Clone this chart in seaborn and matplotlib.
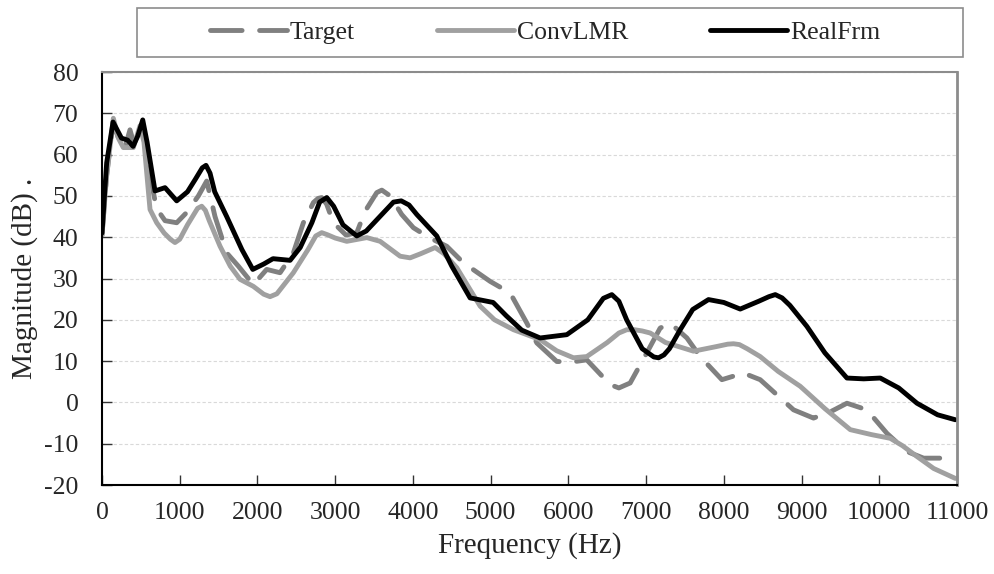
import matplotlib
matplotlib.use("Agg")
import matplotlib.pyplot as plt
from matplotlib.patches import Rectangle
import seaborn as sns

# ---- data ----
target_f = [0, 60, 146, 250, 300, 360, 420, 520, 620, 700, 811, 961, 1090, 1240, 1347, 1454,
            1604, 1754, 1947, 2119, 2291, 2462, 2591, 2720, 2780, 2827, 2890, 2977, 3140, 3278,
            3385, 3535, 3600, 3707, 3856, 4006, 4200, 4436, 4650, 4994, 5251, 5466, 5594, 5852,
            6050, 6237, 6538, 6650, 6795, 7009, 7181, 7310, 7525, 7696, 7975, 8253, 8468, 8897,
            9154, 9400, 9584, 9841, 10099, 10356, 10571, 10807]
target_db = [40.5, 55, 68, 61.5, 62, 66, 62, 67, 55, 47, 44, 43.5, 46, 50, 53.6, 45,
             36.2, 33, 28.5, 32.2, 31.4, 36.2, 43.5, 48.4, 49.4, 49.6, 48, 43.5, 40.5, 41.1,
             46.3, 50.8, 51.4, 50, 45.5, 42.3, 40, 37.8, 33.8, 29.3, 26.5, 19.2, 14.4, 9.9,
             9.8, 10.3, 4.3, 3.5, 4.7, 12, 18, 19.2, 15.6, 11.1, 5.5, 7.1, 5.5, -1.8,
             -3.8, -2, -0.2, -1.8, -7.5, -11.9, -13.5, -13.5]

conv_f = [0, 60, 146, 210, 274, 403, 489, 540, 618, 704, 800, 880, 939, 1000, 1100, 1230,
          1283, 1330, 1380, 1519, 1650, 1776, 1947, 2080, 2162, 2250, 2300, 2462, 2650, 2750,
          2827, 2900, 3000, 3149, 3407, 3578, 3835, 3964, 4100, 4286, 4400, 4565, 4865, 5050,
          5294, 5637, 5850, 6066, 6237, 6500, 6650, 6752, 6850, 6950, 7053, 7250, 7610, 7900,
          8050, 8125, 8200, 8300, 8468, 8700, 8983, 9300, 9627, 9900, 10142, 10300, 10485,
          10700, 10978]
conv_db = [40.5, 55, 68.8, 64, 61.7, 61.7, 67, 63, 46.7, 43.5, 41, 39.5, 38.7, 39.5, 43, 47,
           47.5, 46.5, 44, 37.8, 33, 29.8, 28.1, 26.2, 25.6, 26.3, 27.5, 31.4, 37, 40.3,
           41.1, 40.6, 39.8, 39, 39.9, 39, 35.4, 35, 36, 37.5, 36, 32.6, 23.3, 20,
           17.6, 15.2, 12.5, 10.8, 11.1, 14.5, 16.8, 17.6, 17.6, 17.3, 16.8, 14.5, 12.4, 13.5,
           14.1, 14.2, 14, 13, 11.1, 7.5, 3.9, -1.5, -6.6, -7.8, -8.7, -10.5, -13.1,
           -16, -18.4]

real_f = [0, 60, 142, 250, 330, 400, 460, 524, 580, 682, 811, 961, 1100, 1200, 1290, 1338,
          1390, 1450, 1604, 1800, 1940, 2080, 2200, 2420, 2550, 2700, 2800, 2892, 2980, 3100,
          3278, 3400, 3600, 3750, 3850, 3950, 4050, 4307, 4500, 4736, 5032, 5200, 5400, 5637,
          5980, 6250, 6450, 6559, 6650, 6750, 6950, 7100, 7160, 7230, 7300, 7439, 7600, 7803,
          8000, 8211, 8450, 8580, 8662, 8750, 8850, 9069, 9300, 9584, 9800, 10013, 10250,
          10485, 10750, 10978]
real_db = [41, 58, 67.9, 64, 63.5, 62, 64.5, 68.4, 63, 51.2, 52, 48.8, 51, 54, 56.8, 57.4,
           55.5, 51, 45, 37, 32.2, 33.5, 34.8, 34.4, 37.5, 43.5, 48.5, 49.6, 47.5, 43,
           40.3, 41.5, 45.5, 48.5, 48.8, 47.8, 45.5, 40.3, 33, 25.3, 24.2, 21, 17.5, 15.6,
           16.4, 20, 25.2, 26.1, 24.5, 20, 13, 11, 10.8, 11.5, 13, 17.6, 22.5, 24.9,
           24.2, 22.6, 24.5, 25.6, 26.1, 25.3, 23.5, 18.4, 12, 5.9, 5.7, 5.9, 3.5,
           -0.2, -3, -4.2]

series_names = ["Target", "ConvLMR", "RealFrm"]
x_ticks = list(range(0, 11001, 1000))
y_ticks = list(range(-20, 81, 10))

# ---- style ----
sns.set_theme(style="white")
plt.rcParams["font.family"] = ["Liberation Serif", "DejaVu Serif"]

fig = plt.figure(figsize=(9.95, 5.74), dpi=100)
ax = fig.add_axes([102 / 995, 1 - 485 / 574, (957 - 102) / 995, (485 - 72) / 574])

lw = 3.5
sns.lineplot(x=target_f, y=target_db, ax=ax, color="#808080", lw=lw,
             label=series_names[0], errorbar=None, estimator=None)
ax.lines[-1].set_dashes((6.5, 3.6))
ax.lines[-1].set_dash_capstyle("round")
sns.lineplot(x=conv_f, y=conv_db, ax=ax, color="#a0a0a0", lw=lw,
             label=series_names[1], errorbar=None, estimator=None)
sns.lineplot(x=real_f, y=real_db, ax=ax, color="#000000", lw=lw,
             label=series_names[2], errorbar=None, estimator=None)
for ln in ax.lines:
    ln.set_solid_capstyle("round")
    ln.set_solid_joinstyle("round")
    ln.set_dash_joinstyle("round")

ax.set_xlim(0, 11000)
ax.set_ylim(-20, 80)
ax.set_xticks(x_ticks)
ax.set_yticks(y_ticks)
ax.set_xticklabels([str(t) for t in x_ticks])
ax.set_yticklabels([str(t) for t in y_ticks])
ax.tick_params(axis="x", direction="in", length=7, width=1, color="#333333",
               labelsize=18.5, pad=12, bottom=True)
ax.tick_params(axis="y", direction="in", length=7, width=1, color="#333333",
               labelsize=18.5, pad=17, left=True)

ax.grid(axis="y", color="#d9d9d9", linestyle=(0, (3, 2)), linewidth=0.8)
ax.grid(axis="x", visible=False)
ax.set_axisbelow(True)

for side in ["left", "bottom"]:
    ax.spines[side].set_color("#000000")
    ax.spines[side].set_linewidth(1.5)
for side in ["top", "right"]:
    ax.spines[side].set_color("#8c8c8c")
    ax.spines[side].set_linewidth(1.5)
ax.spines["right"].set_linewidth(2)

ax.set_xlabel("Frequency (Hz)", fontsize=21, labelpad=6)
ax.set_ylabel("Magnitude (dB) .", fontsize=21, labelpad=4)

handles, labels = ax.get_legend_handles_labels()
if ax.legend_:
    ax.legend_.remove()
fig.patches.append(Rectangle((137 / 995, 1 - 57 / 574), (963 - 137) / 995, 49 / 574,
                             transform=fig.transFigure, fill=False,
                             edgecolor="#8c8c8c", linewidth=1.2))
leg = fig.legend(handles, labels, loc="center", ncol=3,
                 bbox_to_anchor=(545 / 995, 1 - 33 / 574),
                 fontsize=18.5, frameon=False, handlelength=3.0,
                 handletextpad=0.1, columnspacing=3.2, borderaxespad=0)

fig.savefig("out.png", dpi=100)
